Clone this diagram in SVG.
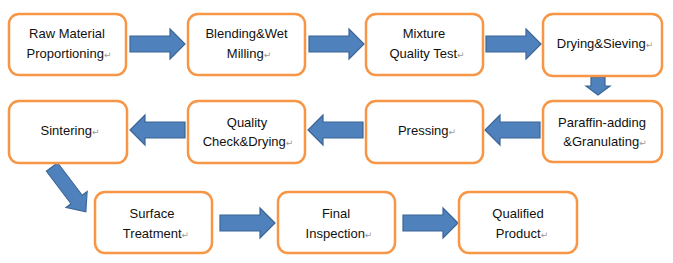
<svg xmlns="http://www.w3.org/2000/svg" width="673" height="263" viewBox="0 0 673 263">
<defs>
<style>
.box{fill:#fff;stroke:#F79646;stroke-width:2.5}
.t{font-family:"Liberation Sans",Arial,sans-serif;font-size:13px;fill:#111;text-anchor:middle}
.p{font-family:"DejaVu Sans",sans-serif;font-size:9px;fill:#999}
.arr{fill:#4F81BD;stroke:#3A6596;stroke-width:1.2}
</style>
<path id="ar" d="M0,-8 H40 V-15 L55,0 L40,15 V8 H0 Z"/>
</defs>
<rect width="673" height="263" fill="#fff"/>
<g id="connectors">
<use href="#ar" class="arr" transform="translate(130,44)"/>
<use href="#ar" class="arr" transform="translate(309,44)"/>
<use href="#ar" class="arr" transform="translate(486,44)"/>
<path class="arr" d="M591,77 H605 V86 H610 L598,95 L586,86 H591 Z"/>
<use href="#ar" class="arr" transform="translate(540,130) rotate(180)"/>
<use href="#ar" class="arr" transform="translate(363,130) rotate(180)"/>
<use href="#ar" class="arr" transform="translate(185,130) rotate(180)"/>
<use href="#ar" class="arr" transform="translate(52,167) rotate(52.9) scale(1.02,0.88)"/>
<use href="#ar" class="arr" transform="translate(220,223)"/>
<use href="#ar" class="arr" transform="translate(403,223)"/>
</g>
<g id="n1"><rect class="box" x="9" y="14" width="117" height="61" rx="10"/>
<text class="t" x="67" y="38">Raw Material</text><text class="t" x="69" y="58">Proportioning<tspan class="p">↵</tspan></text></g>
<g id="n2"><rect class="box" x="188" y="14" width="117" height="61" rx="10"/>
<text class="t" x="246.5" y="38">Blending&amp;Wet</text><text class="t" x="249" y="58">Milling<tspan class="p">↵</tspan></text></g>
<g id="n3"><rect class="box" x="366" y="14" width="117" height="61" rx="10"/>
<text class="t" x="424" y="38">Mixture</text><text class="t" x="427" y="58">Quality Test<tspan class="p">↵</tspan></text></g>
<g id="n4"><rect class="box" x="543" y="14" width="119" height="62" rx="10"/>
<text class="t" x="605" y="48">Drying&amp;Sieving<tspan class="p">↵</tspan></text></g>
<g id="n5"><rect class="box" x="543" y="101" width="119" height="61" rx="10"/>
<text class="t" x="602" y="127">Paraffin-adding</text><text class="t" x="605" y="146">&amp;Granulating<tspan class="p">↵</tspan></text></g>
<g id="n6"><rect class="box" x="366" y="101" width="117" height="62" rx="10"/>
<text class="t" x="427" y="135">Pressing<tspan class="p">↵</tspan></text></g>
<g id="n7"><rect class="box" x="188" y="101" width="117" height="62" rx="10"/>
<text class="t" x="247" y="127">Quality</text><text class="t" x="248" y="146">Check&amp;Drying<tspan class="p">↵</tspan></text></g>
<g id="n8"><rect class="box" x="9" y="101" width="118" height="62" rx="10"/>
<text class="t" x="70" y="135">Sintering<tspan class="p">↵</tspan></text></g>
<g id="n9"><rect class="box" x="95" y="192" width="117" height="61" rx="10"/>
<text class="t" x="152" y="218">Surface</text><text class="t" x="156" y="238">Treatment<tspan class="p">↵</tspan></text></g>
<g id="n10"><rect class="box" x="278" y="192" width="117" height="61" rx="10"/>
<text class="t" x="336" y="218">Final</text><text class="t" x="339" y="238">Inspection<tspan class="p">↵</tspan></text></g>
<g id="n11"><rect class="box" x="459" y="192" width="118" height="61" rx="10"/>
<text class="t" x="518" y="218">Qualified</text><text class="t" x="522" y="238">Product<tspan class="p">↵</tspan></text></g>
</svg>
